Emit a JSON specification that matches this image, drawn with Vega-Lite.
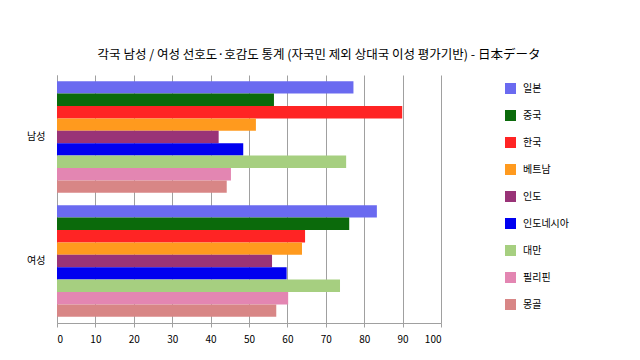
{
  "$schema": "https://vega.github.io/schema/vega-lite/v6.json",
  "width": 384,
  "height": 248,
  "autosize": {"type": "none"},
  "padding": {"left": 57, "top": 75, "right": 199, "bottom": 37},
  "background": "white",
  "title": {
    "text": "각국 남성 / 여성 선호도·호감도 통계 (자국민 제외 상대국 이성 평가기반) - 日本データ",
    "fontSize": 12.5,
    "fontWeight": "normal",
    "font": "Noto Sans CJK KR",
    "color": "#000000",
    "anchor": "middle",
    "frame": "group",
    "dx": 70,
    "offset": 14
  },
  "data": {
    "values": [
      {"gender": "남성", "country": "일본", "value": 77.2},
      {"gender": "남성", "country": "중국", "value": 56.5},
      {"gender": "남성", "country": "한국", "value": 89.9},
      {"gender": "남성", "country": "베트남", "value": 51.8},
      {"gender": "남성", "country": "인도", "value": 42.1},
      {"gender": "남성", "country": "인도네시아", "value": 48.5},
      {"gender": "남성", "country": "대만", "value": 75.3},
      {"gender": "남성", "country": "필리핀", "value": 45.3},
      {"gender": "남성", "country": "몽골", "value": 44.2},
      {"gender": "여성", "country": "일본", "value": 83.3},
      {"gender": "여성", "country": "중국", "value": 76.1},
      {"gender": "여성", "country": "한국", "value": 64.6},
      {"gender": "여성", "country": "베트남", "value": 63.8},
      {"gender": "여성", "country": "인도", "value": 56.0},
      {"gender": "여성", "country": "인도네시아", "value": 59.8},
      {"gender": "여성", "country": "대만", "value": 73.7},
      {"gender": "여성", "country": "필리핀", "value": 60.2},
      {"gender": "여성", "country": "몽골", "value": 57.1}
    ]
  },
  "mark": {"type": "bar"},
  "encoding": {
    "y": {
      "field": "gender",
      "type": "nominal",
      "sort": ["남성", "여성"],
      "scale": {"paddingInner": 0.1, "paddingOuter": 0.05},
      "axis": {
        "title": null,
        "ticks": false,
        "domain": true,
        "labelPadding": 12,
        "labelFontSize": 10,
        "labelAngle": 0
      }
    },
    "yOffset": {
      "field": "country",
      "type": "nominal",
      "sort": ["일본", "중국", "한국", "베트남", "인도", "인도네시아", "대만", "필리핀", "몽골"],
      "scale": {"paddingInner": 0, "paddingOuter": 0}
    },
    "x": {
      "field": "value",
      "type": "quantitative",
      "scale": {"domain": [0, 100], "nice": false},
      "axis": {
        "title": null,
        "values": [0, 10, 20, 30, 40, 50, 60, 70, 80, 90, 100],
        "grid": true,
        "tickSize": 4,
        "labelPadding": 7,
        "labelFontSize": 10
      }
    },
    "color": {
      "field": "country",
      "type": "nominal",
      "scale": {
        "domain": ["일본", "중국", "한국", "베트남", "인도", "인도네시아", "대만", "필리핀", "몽골"],
        "range": ["#6a6af0", "#0b6a0b", "#ff2424", "#ff9a1e", "#993377", "#0000f0", "#a6cf80", "#e386b2", "#d88686"]
      },
      "legend": {
        "title": null,
        "orient": "none",
        "legendX": 448,
        "legendY": 8,
        "symbolType": "square",
        "symbolSize": 121,
        "symbolStrokeWidth": 0,
        "rowPadding": 16,
        "labelOffset": 7,
        "labelFontSize": 10,
        "labelColor": "#000000",
        "padding": 0
      }
    }
  },
  "config": {
    "font": "Noto Sans CJK KR",
    "view": {"stroke": null},
    "axis": {
      "gridColor": "#a0a0a0",
      "gridOpacity": 1,
      "domainColor": "#a0a0a0",
      "tickColor": "#a0a0a0",
      "labelColor": "#000000",
      "labelFont": "Noto Sans CJK KR"
    },
    "legend": {"labelFont": "Noto Sans CJK KR"}
  }
}
